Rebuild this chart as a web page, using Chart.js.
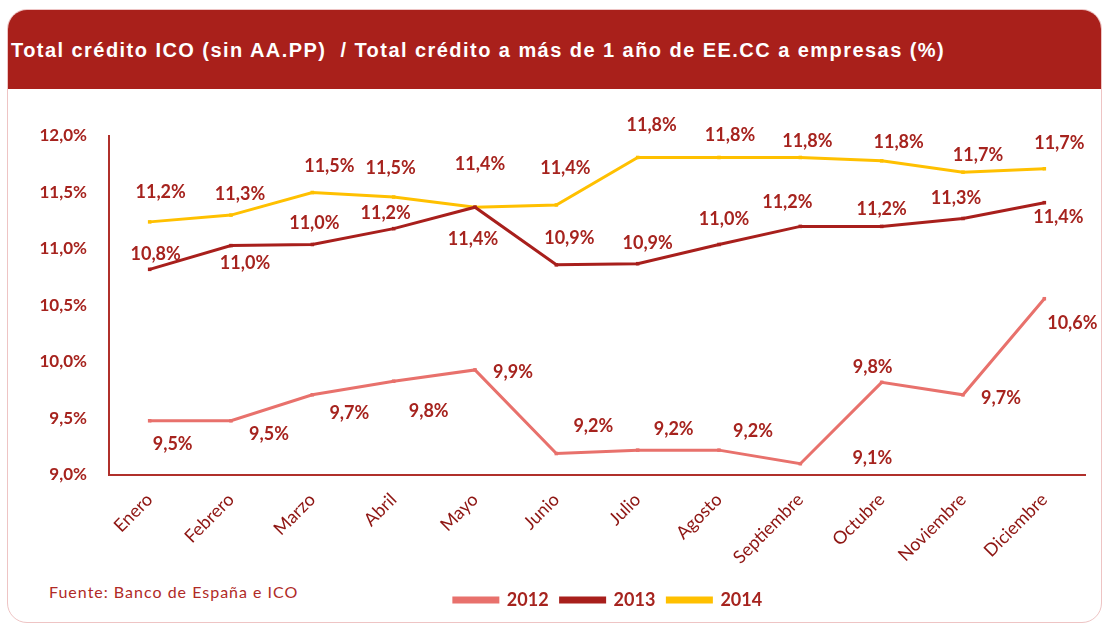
<!DOCTYPE html>
<html>
<head>
<meta charset="utf-8">
<script src="https://cdn.jsdelivr.net/npm/chart.js@4/dist/chart.umd.min.js"></script>
<style>
  html, body { margin: 0; padding: 0; background: #fff; width: 1102px; height: 628px; overflow: hidden; }
  .card {
    position: absolute; left: 7px; top: 9px; width: 1093px; height: 612px;
    border: 1px solid #eec4c4; border-radius: 20px; overflow: hidden; background: #fff;
  }
  .header {
    position: absolute; left: 0; top: 0; width: 100%; height: 79px; background: #a9201b;
  }
  .header span {
    position: absolute; left: 3px; top: 29px; color: #fff;
    font: bold 20px "Liberation Sans", Arial, sans-serif; letter-spacing: 1.45px; white-space: nowrap;
  }
  .source {
    position: absolute; left: 49px; top: 582px; color: #b02a26;
    font: 16px Lato, sans-serif; letter-spacing: 1px; white-space: nowrap;
  }
  #chart { position: absolute; left: 0; top: 0; }
</style>
</head>
<body>
<div class="card"><div class="header"><span>Total crédito ICO (sin AA.PP)&nbsp; / Total crédito a más de 1 año de EE.CC a empresas (%)</span></div></div>
<div class="source">Fuente: Banco de España e ICO</div>
<canvas id="chart" width="1102" height="628"></canvas>
<script>
const months = ['Enero', 'Febrero', 'Marzo', 'Abril', 'Mayo', 'Junio', 'Julio', 'Agosto', 'Septiembre', 'Octubre', 'Noviembre', 'Diciembre'];
const values2012 = [9.48, 9.48, 9.71, 9.83, 9.93, 9.19, 9.22, 9.22, 9.1, 9.82, 9.71, 10.56];
const values2013 = [10.82, 11.03, 11.04, 11.18, 11.37, 10.86, 10.87, 11.04, 11.2, 11.2, 11.27, 11.41];
const values2014 = [11.24, 11.3, 11.5, 11.46, 11.37, 11.39, 11.81, 11.81, 11.81, 11.78, 11.68, 11.71];
const yTicks = [9.0, 9.5, 10.0, 10.5, 11.0, 11.5, 12.0];

// label offsets (px) from each point, placed like the original
const offs2012 = [[23, 23], [38, 13], [37, 18], [35, 30], [38, 2], [37, -27], [36, -21], [34, -19], [72, -6], [-9, -15], [38, 3], [28, 24]];
const offs2013 = [[6, -15], [14, 18], [2, -21], [-8, -15], [-2, 32], [13, -27], [10, -21], [5, -25], [-13, -24], [0, -17], [-7, -20], [14, 15]];
const offs2014 = [[11, -30], [9, -21], [17, -26], [-3, -29], [5, -43], [9, -37], [14, -32], [11, -22], [7, -16], [17, -19], [15, -17], [15, -26]];

const red = '#a6231e';
const fmt = v => v.toFixed(1).replace('.', ',') + '%';

const pointLabels = {
  id: 'pointLabels',
  afterDatasetsDraw(chart) {
    const ctx = chart.ctx;
    ctx.save();
    ctx.font = 'bold 18px Lato, sans-serif';
    ctx.fillStyle = red;
    ctx.textAlign = 'center';
    ctx.textBaseline = 'middle';
    chart.data.datasets.forEach((ds, i) => {
      chart.getDatasetMeta(i).data.forEach((pt, j) => {
        const o = ds.offsets[j];
        ctx.fillText(fmt(ds.data[j]), pt.x + o[0], pt.y + o[1]);
      });
    });
    ctx.restore();
  }
};

const moveLegend = {
  id: 'moveLegend',
  afterLayout(chart) {
    const lg = chart.legend;
    const dx = 608 - (lg.left + lg.right) / 2;
    lg.left += dx; lg.right += dx;
    const dy = 579 - lg.top;
    lg.top += dy; lg.bottom += dy;
  }
};

new Chart(document.getElementById('chart'), {
  type: 'line',
  data: {
    labels: months,
    datasets: [
      { label: '2012', data: values2012, offsets: offs2012, borderColor: '#e8716c', backgroundColor: '#e8716c' },
      { label: '2013', data: values2013, offsets: offs2013, borderColor: '#a81f1c', backgroundColor: '#a81f1c' },
      { label: '2014', data: values2014, offsets: offs2014, borderColor: '#ffc000', backgroundColor: '#ffc000' }
    ]
  },
  options: {
    responsive: false,
    animation: false,
    layout: { padding: { top: 136, right: 17, bottom: 0, left: 0 } },
    elements: {
      line: { borderWidth: 3, tension: 0 },
      point: { pointStyle: 'rect', radius: 2.5, borderWidth: 0 }
    },
    plugins: {
      tooltip: { enabled: false },
      legend: {
        position: 'bottom',
        labels: {
          boxWidth: 44, boxHeight: 4, padding: 12,
          color: red, font: { family: 'Lato', size: 18, weight: 'bold' }
        }
      }
    },
    scales: {
      x: {
        offset: true,
        grid: { display: false, drawTicks: false },
        border: { color: '#b0302b', width: 2 },
        ticks: { color: '#8e1512', font: { family: 'Lato', size: 18 }, minRotation: 45, maxRotation: 45, padding: 14 },
        afterFit(scale) { scale.height = 113; }
      },
      y: {
        min: 9, max: 12,
        afterBuildTicks(scale) { scale.ticks = yTicks.map(v => ({ value: v })); },
        grid: { display: false, drawTicks: false },
        border: { color: '#b0302b', width: 2 },
        ticks: { color: red, font: { family: 'Lato', size: 17, weight: 'bold' }, padding: 22, callback: v => fmt(v) },
        afterFit(scale) { scale.width = 109; }
      }
    }
  },
  plugins: [pointLabels, moveLegend]
});
</script>
</body>
</html>
